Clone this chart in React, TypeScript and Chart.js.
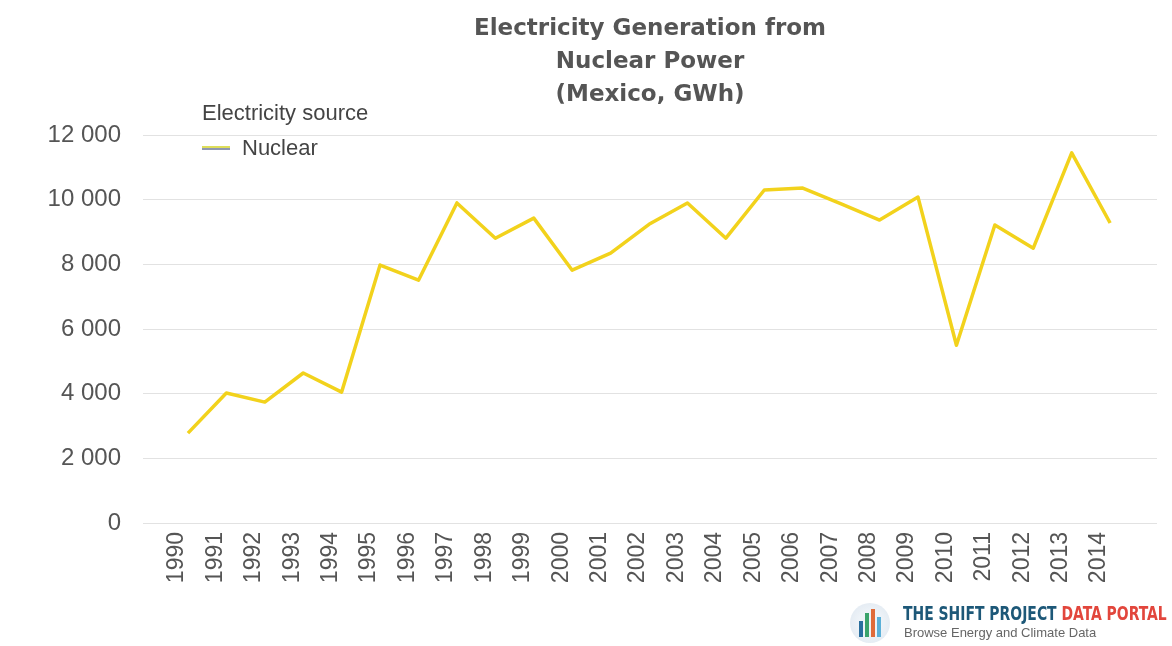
import React, { useEffect, useRef } from "react";
import { Chart, registerables } from "chart.js";

Chart.register(...registerables);

const years = [
  "1990", "1991", "1992", "1993", "1994", "1995", "1996", "1997", "1998", "1999",
  "2000", "2001", "2002", "2003", "2004", "2005", "2006", "2007", "2008", "2009",
  "2010", "2011", "2012", "2013", "2014",
];
const nuclear = [
  2780, 4020, 3740, 4640, 4050, 7980, 7510, 9900, 8810, 9430,
  7820, 8350, 9240, 9900, 8810, 10300, 10360, 9870, 9370, 10080,
  5500, 9220, 8500, 11450, 9280,
];
const yTicks = [0, 2000, 4000, 6000, 8000, 10000, 12000];
const titleLines = ["Electricity Generation from", "Nuclear Power", "(Mexico, GWh)"];
const legendTitle = "Electricity source";
const seriesName = "Nuclear";

const LINE_COLOR = "#f2d21c";
const TEXT_COLOR = "#555555";

function fmt(v: number): string {
  const s = String(Math.round(v));
  return s.replace(/\B(?=(\d{3})+(?!\d))/g, " ");
}

export default function App() {
  const canvasRef = useRef<HTMLCanvasElement | null>(null);

  useEffect(() => {
    document.body.style.margin = "0";
    const canvas = canvasRef.current;
    if (!canvas) return;
    const chart = new Chart(canvas, {
      type: "line",
      data: {
        datasets: [
          {
            label: seriesName,
            data: nuclear.map((v, i) => ({ x: i, y: v })),
            borderColor: LINE_COLOR,
            backgroundColor: LINE_COLOR,
            borderWidth: 3.5,
            pointRadius: 0,
            tension: 0,
            borderJoinStyle: "round",
          },
        ],
      },
      options: {
        animation: false,
        responsive: false,
        maintainAspectRatio: false,
        layout: { padding: { top: 0, right: 15, bottom: 0, left: 0 } },
        plugins: {
          legend: { display: false },
          tooltip: { enabled: false },
          title: {
            display: true,
            text: titleLines,
            fullSize: false,
            color: TEXT_COLOR,
            font: { family: "'DejaVu Sans', sans-serif", size: 23, weight: "bold", lineHeight: 1.45 },
            padding: { top: 12, bottom: 23 },
          },
        },
        scales: {
          x: {
            type: "linear",
            min: -1.17,
            max: 25.22,
            grid: { display: false },
            border: { display: false },
            afterBuildTicks: (scale: any) => {
              scale.ticks = years.map((_, i) => ({ value: i }));
            },
            afterFit: (scale: any) => {
              scale.height = 123;
            },
            ticks: {
              autoSkip: false,
              minRotation: 90,
              maxRotation: 90,
              padding: 1,
              labelOffset: -11,
              color: TEXT_COLOR,
              font: { family: "'Liberation Sans', Arial, sans-serif", size: 23 },
              callback: (v: any) => years[Math.round(Number(v))] ?? "",
            },
          },
          y: {
            type: "linear",
            min: 0,
            max: 12000,
            afterBuildTicks: (scale: any) => {
              scale.ticks = yTicks.map((v) => ({ value: v }));
            },
            afterFit: (scale: any) => {
              scale.width = 143;
            },
            grid: { color: "#e2e2e2", lineWidth: 1, drawTicks: false },
            border: { display: false },
            ticks: {
              padding: 22,
              color: TEXT_COLOR,
              font: { family: "'Liberation Sans', Arial, sans-serif", size: 24 },
              callback: (v: any) => fmt(Number(v)),
            },
          },
        },
      },
    });
    return () => chart.destroy();
  }, []);

  return (
    <div style={{ position: "absolute", left: 0, top: 0, width: 1172, height: 646, background: "#fff", overflow: "hidden" }}>
      <canvas ref={canvasRef} width={1172} height={646} style={{ display: "block", width: 1172, height: 646 }} />
      {/* legend */}
      <div style={{ position: "absolute", left: 202, top: 100, font: "22px 'Liberation Sans', Arial, sans-serif", color: "#444", whiteSpace: "nowrap" }}>
        {legendTitle}
      </div>
      <div style={{ position: "absolute", left: 202, top: 146, width: 28, height: 2, background: "#dede5a" }} />
      <div style={{ position: "absolute", left: 202, top: 148, width: 28, height: 2, background: "#8f98b0" }} />
      <div style={{ position: "absolute", left: 242, top: 135, font: "22px 'Liberation Sans', Arial, sans-serif", color: "#444", whiteSpace: "nowrap" }}>
        {seriesName}
      </div>
      {/* logo */}
      <div style={{ position: "absolute", left: 850, top: 603, width: 40, height: 40, borderRadius: 20, background: "radial-gradient(circle, #eef3f8 40%, #dde6ef 100%)" }}>
        <div style={{ position: "absolute", left: 9, top: 18, width: 4, height: 16, background: "#2a6f9e" }} />
        <div style={{ position: "absolute", left: 15, top: 10, width: 4, height: 24, background: "#3aa36b" }} />
        <div style={{ position: "absolute", left: 21, top: 6, width: 4, height: 28, background: "#e06b3a" }} />
        <div style={{ position: "absolute", left: 27, top: 14, width: 4, height: 20, background: "#5bb0d8" }} />
      </div>
      <div style={{ position: "absolute", left: 903, top: 602, font: "bold 15.5px 'DejaVu Sans Condensed', 'DejaVu Sans', sans-serif", whiteSpace: "nowrap", transform: "scaleY(1.3)", transformOrigin: "0 0" }}>
        <span style={{ color: "#1d5878" }}>THE SHIFT PROJECT </span>
        <span style={{ color: "#e2463c" }}>DATA PORTAL</span>
      </div>
      <div style={{ position: "absolute", left: 904, top: 625, font: "13px 'Liberation Sans', Arial, sans-serif", color: "#666", whiteSpace: "nowrap" }}>
        Browse Energy and Climate Data
      </div>
    </div>
  );
}
